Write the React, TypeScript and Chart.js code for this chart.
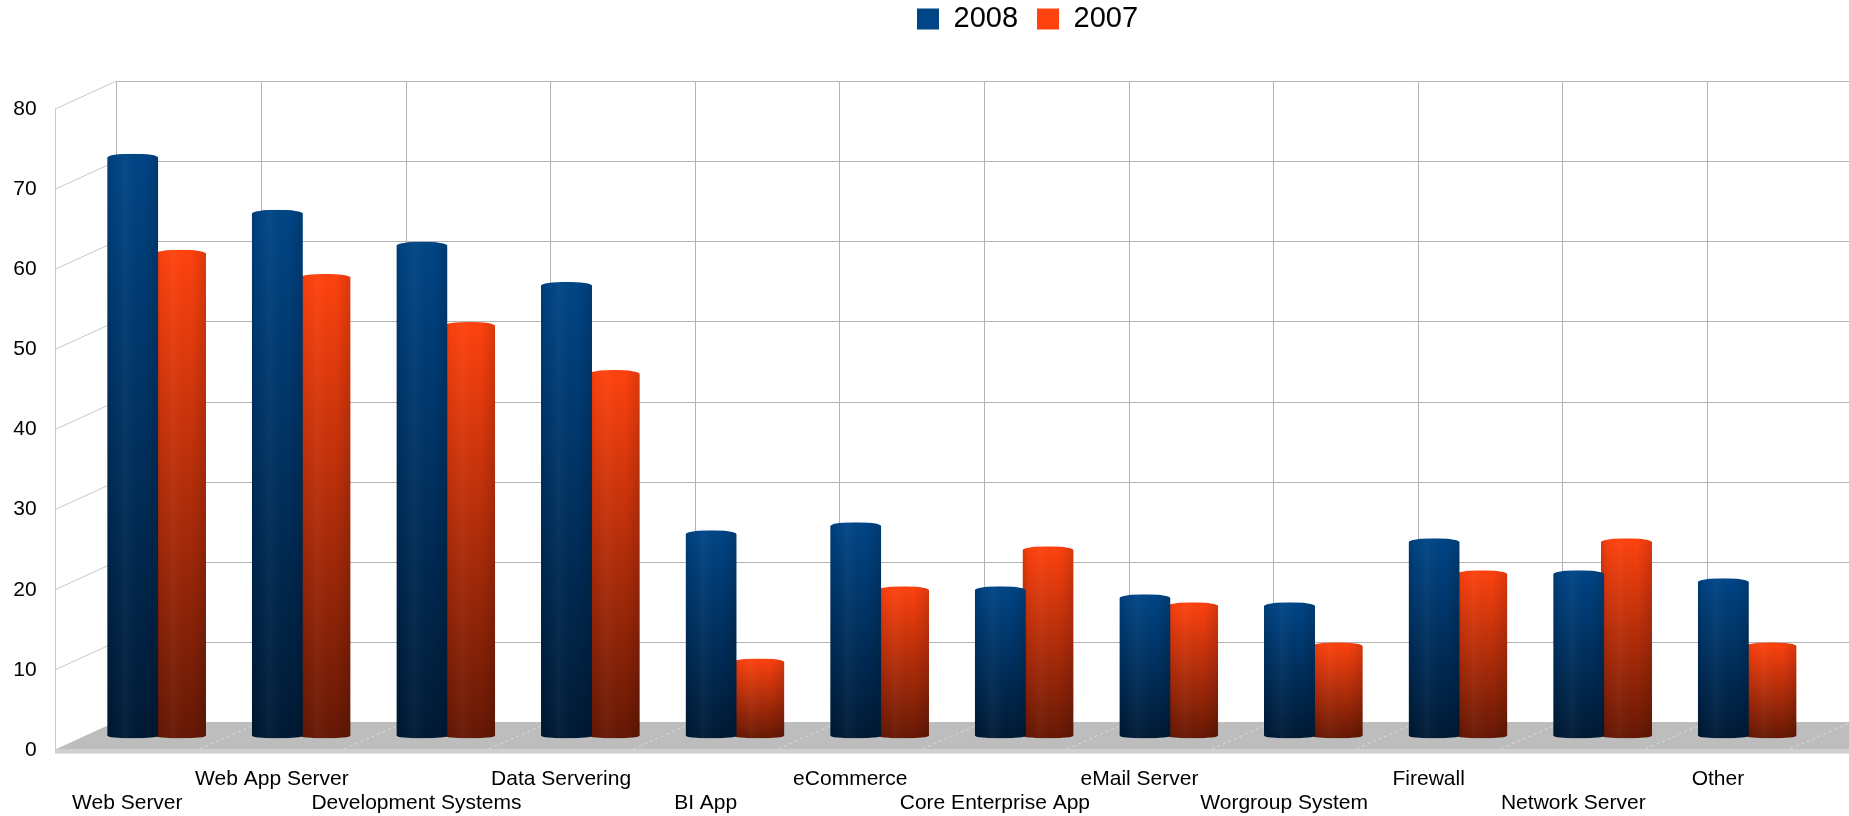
import React, { useEffect, useRef } from 'react';
import { Chart, registerables } from 'chart.js';

Chart.register(...registerables);

// ---- data ----
const categories = [
  'Web Server',
  'Web App Server',
  'Development Systems',
  'Data Servering',
  'BI App',
  'eCommerce',
  'Core Enterprise App',
  'eMail Server',
  'Worgroup System',
  'Firewall',
  'Network Server',
  'Other',
];
const seriesNames = ['2008', '2007'];
const values2008 = [73, 66, 62, 57, 26, 27, 19, 18, 17, 25, 21, 20];
const values2007 = [61, 58, 52, 46, 10, 19, 24, 17, 12, 21, 25, 12];
const yMin = 0;
const yMax = 80;
const yStep = 10;

// ---- styling / layout ----
const W = 1849;
const H = 816;
const FONT = "'Liberation Sans', Arial, sans-serif";
const BLUE_TOP = '#004586';
const BLUE_BOTTOM = '#001a35';
const RED_TOP = '#ff420e';
const RED_BOTTOM = '#651805';
const GRID = '#b3b3b3';
const BACK_DX = 32;
const BACK_DY = -16.5;
const FRONT_DX = -29.3;
const FRONT_DY = 11.5;
const PLOT_TOP = 97.6;
const PLOT_BOTTOM = 738.5;
const PLOT_LEFT = 84.3;
const PLOT_RIGHT_PAD = 29.5;
const CAP_RY = 4;
const FOOT_RY = 3;
const LEGEND_PAD = 19;
const LEGEND_X = 917;
const LEGEND_CY = 19;
const LEGEND_FONT = 29;

const colorsTop = [BLUE_TOP, RED_TOP];
const colorsBottom = [BLUE_BOTTOM, RED_BOTTOM];

function barGradient(top: string, bottom: string) {
  return (ctx: any) => {
    const chart = ctx.chart;
    if (ctx.type !== 'data' || !chart.chartArea) return top;
    const ys = chart.scales.y;
    const yTop = ys.getPixelForValue(ctx.raw);
    const yBase = ys.getPixelForValue(0);
    const g = chart.ctx.createLinearGradient(0, yTop, 0, yBase);
    g.addColorStop(0, top);
    g.addColorStop(1, bottom);
    return g;
  };
}

function cylinderPath(ctx: CanvasRenderingContext2D, el: any) {
  const { x, y, base, width } = el.getProps(['x', 'y', 'base', 'width'], true);
  const l = x - width / 2;
  const r = x + width / 2;
  ctx.moveTo(l, base - FOOT_RY);
  ctx.lineTo(l, y + CAP_RY);
  ctx.ellipse(x, y + CAP_RY, width / 2, CAP_RY, 0, Math.PI, 2 * Math.PI);
  ctx.lineTo(r, base - FOOT_RY);
  ctx.ellipse(x, base - FOOT_RY, width / 2, FOOT_RY, 0, 0, Math.PI);
  ctx.closePath();
}

const wallsPlugin = {
  id: 'walls3d',
  beforeDatasetsDraw(chart: any) {
    const { ctx } = chart;
    const xs = chart.scales.x;
    const ys = chart.scales.y;
    const n = categories.length;
    const cw = (xs.right - xs.left) / n;
    const x0 = xs.left;
    const yB = (v: number) => ys.getPixelForValue(v) + BACK_DY;
    const yF = (v: number) => ys.getPixelForValue(v) + FRONT_DY;
    const xB = (i: number) => x0 + i * cw + BACK_DX;
    const xF = (i: number) => x0 + i * cw + FRONT_DX;
    const ticks: number[] = [];
    for (let v = yMin; v <= yMax; v += yStep) ticks.push(v);

    ctx.save();
    ctx.lineWidth = 1;
    ctx.strokeStyle = GRID;
    ticks.forEach((v) => {
      const y = Math.round(yB(v)) + 0.5;
      ctx.beginPath();
      ctx.moveTo(xB(0), y);
      ctx.lineTo(W, y);
      ctx.stroke();
    });
    for (let i = 0; i <= n; i++) {
      const x = Math.round(xB(i)) + 0.5;
      ctx.beginPath();
      ctx.moveTo(x, yB(yMax));
      ctx.lineTo(x, yB(yMin));
      ctx.stroke();
    }
    ctx.strokeStyle = '#c8c8c8';
    ticks.forEach((v) => {
      ctx.beginPath();
      ctx.moveTo(xF(0), yF(v));
      ctx.lineTo(xB(0), yB(v));
      ctx.stroke();
    });
    ctx.beginPath();
    ctx.moveTo(Math.round(xF(0)) + 0.5, yF(yMax));
    ctx.lineTo(Math.round(xF(0)) + 0.5, yF(yMin));
    ctx.stroke();

    // floor
    ctx.fillStyle = '#bdbdbd';
    ctx.beginPath();
    ctx.moveTo(xF(0), yF(0));
    ctx.lineTo(xB(0), yB(0));
    ctx.lineTo(W, yB(0));
    ctx.lineTo(W, yF(0));
    ctx.closePath();
    ctx.fill();
    ctx.fillStyle = '#d0d0d0';
    ctx.fillRect(xF(0), yF(0) - 1, W - xF(0), 4);
    ctx.fillStyle = '#e4e4e4';
    ctx.fillRect(xF(0), yF(0) + 3, W - xF(0), 1);
    ctx.strokeStyle = 'rgba(225,225,225,0.8)';
    ctx.setLineDash([3, 3]);
    for (let i = 1; i <= n; i++) {
      ctx.beginPath();
      ctx.moveTo(xF(i), yF(0) - 1);
      ctx.lineTo(xB(i), yB(0));
      ctx.stroke();
    }
    ctx.setLineDash([]);
    ctx.restore();
  },
  beforeDatasetDraw(chart: any, args: any) {
    const { ctx } = chart;
    ctx.save();
    ctx.beginPath();
    args.meta.data.forEach((el: any) => cylinderPath(ctx, el));
    ctx.clip();
  },
  afterDatasetDraw(chart: any, args: any) {
    const { ctx } = chart;
    args.meta.data.forEach((el: any) => {
      const { x, width } = el.getProps(['x', 'width'], true);
      const l = x - width / 2;
      const r = x + width / 2;
      const g = ctx.createLinearGradient(l, 0, r, 0);
      g.addColorStop(0, 'rgba(0,0,0,0.14)');
      g.addColorStop(0.12, 'rgba(0,0,0,0.02)');
      g.addColorStop(0.35, 'rgba(255,255,255,0.035)');
      g.addColorStop(0.7, 'rgba(0,0,0,0.0)');
      g.addColorStop(1, 'rgba(0,0,0,0.14)');
      ctx.fillStyle = g;
      ctx.beginPath();
      cylinderPath(ctx, el);
      ctx.fill();
    });
    ctx.restore();
  },
};

const legendPlacement = {
  id: 'legendPlacement',
  beforeInit(chart: any) {
    const legend = chart.legend;
    if (!legend) return;
    const origFit = legend.fit;
    legend.fit = function () {
      origFit.call(this);
      this.height = PLOT_TOP;
    };
  },
  afterLayout(chart: any) {
    const legend = chart.legend;
    if (!legend) return;
    legend.left = LEGEND_X - LEGEND_PAD;
    legend.right = W;
    legend.top = LEGEND_CY - LEGEND_FONT / 2 - LEGEND_PAD;
  },
};

export default function App() {
  const ref = useRef<HTMLCanvasElement | null>(null);

  useEffect(() => {
    if (!ref.current) return;
    const chart = new Chart(ref.current, {
      type: 'bar',
      data: {
        labels: categories,
        datasets: [
          {
            label: seriesNames[0],
            data: values2008,
            backgroundColor: barGradient(BLUE_TOP, BLUE_BOTTOM),
            borderWidth: 0,
            barPercentage: 1.07,
            categoryPercentage: 0.66,
          },
          {
            label: seriesNames[1],
            data: values2007,
            backgroundColor: barGradient(RED_TOP, RED_BOTTOM),
            borderWidth: 0,
            barPercentage: 1.07,
            categoryPercentage: 0.66,
          },
        ],
      },
      options: {
        responsive: false,
        animation: false,
        devicePixelRatio: 1,
        events: [],
        layout: { padding: { left: 0, right: PLOT_RIGHT_PAD, top: 0, bottom: 0 } },
        plugins: {
          tooltip: { enabled: false },
          title: { display: false },
          legend: {
            display: true,
            position: 'top',
            align: 'start',
            labels: {
              boxWidth: 22,
              boxHeight: 21,
              padding: LEGEND_PAD,
              color: '#000',
              font: { family: FONT, size: LEGEND_FONT },
              generateLabels: (c: any) =>
                c.data.datasets.map((ds: any, i: number) => ({
                  text: ds.label,
                  fillStyle: colorsTop[i],
                  strokeStyle: colorsTop[i],
                  lineWidth: 0,
                  hidden: false,
                  datasetIndex: i,
                })),
            },
          },
        },
        scales: {
          x: {
            type: 'category',
            offset: true,
            grid: { display: false, drawTicks: false },
            border: { display: false },
            ticks: {
              autoSkip: false,
              maxRotation: 0,
              minRotation: 0,
              padding: 29.3,
              labelOffset: FRONT_DX,
              color: '#000',
              font: { family: FONT, size: 21, lineHeight: 1.12 },
              callback: (_v: any, i: number) =>
                i % 2 === 0 ? ['', categories[i]] : [categories[i], ''],
            },
            afterFit: (s: any) => {
              s.height = H - PLOT_BOTTOM;
            },
          },
          y: {
            min: yMin,
            max: yMax,
            grid: { display: false, drawTicks: false },
            border: { display: false },
            ticks: {
              stepSize: yStep,
              padding: 47.7,
              labelOffset: FRONT_DY,
              color: '#000',
              font: { family: FONT, size: 21 },
            },
            afterFit: (s: any) => {
              s.width = PLOT_LEFT;
            },
          },
        },
      },
      plugins: [wallsPlugin, legendPlacement],
    } as any);
    return () => chart.destroy();
  }, []);

  return (
    <div style={{ position: 'absolute', left: 0, top: 0, width: W, height: H, background: '#fff' }}>
      <canvas ref={ref} width={W} height={H} style={{ display: 'block', width: W, height: H }} />
    </div>
  );
}
